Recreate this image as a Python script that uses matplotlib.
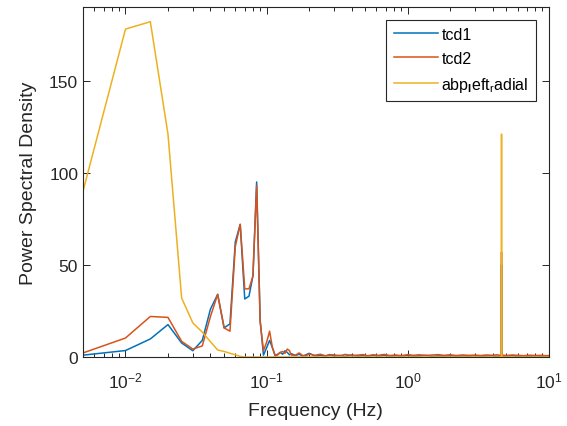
import matplotlib
matplotlib.use("Agg")
import matplotlib.pyplot as plt
from matplotlib.ticker import LogLocator, NullFormatter
import numpy as np

plt.rcParams['font.family'] = ['Liberation Sans', 'DejaVu Sans']
plt.rcParams['mathtext.fontset'] = 'custom'
plt.rcParams['mathtext.rm'] = 'Liberation Sans'
plt.rcParams['mathtext.it'] = 'Liberation Sans'
plt.rcParams['mathtext.bf'] = 'Liberation Sans:bold'

# low frequency part, 0.005 Hz steps
freq_low = [0.005, 0.010, 0.015, 0.020, 0.025, 0.030, 0.035, 0.040, 0.045, 0.050,
            0.055, 0.060, 0.065, 0.070, 0.075, 0.080, 0.085, 0.090, 0.095, 0.100,
            0.105, 0.110, 0.115, 0.120, 0.125, 0.130, 0.135, 0.140, 0.145, 0.150]
tcd1_low = [1.0, 3.5, 9.8, 17.6, 7.6, 3.4, 9.0, 26, 34, 15.8,
            18, 62.5, 72, 31.5, 33, 44, 95, 20, 1.0, 5,
            9, 5, 0.8, 1.5, 2.5, 1.5, 3.4, 2.5, 1.2, 1.8]
tcd2_low = [2.2, 10.3, 22, 21.5, 8.5, 4.3, 6, 22, 34, 15.8,
            14, 60, 72, 37, 37, 44, 93, 19, 3.4, 8,
            14, 5, 0.5, 1.2, 2.5, 3.0, 2.0, 4.3, 3.5, 1.0]
abp_low = [90, 178, 182, 121, 32, 18.5, 13.5, 8.3, 3.8, 3.0,
           2.0, 1.2, 0.3, 0, 0, 0, 0, 0, 0, 0,
           0, 0, 0, 0, 0, 0, 0, 0, 0, 0]

# higher frequency tail incl. the narrow peak near 4.6 Hz
freq_tail = [0.16, 0.17, 0.18, 0.19, 0.20, 0.22, 0.24, 0.26, 0.28, 0.30,
             0.33, 0.36, 0.40, 0.44, 0.48, 0.52, 0.57, 0.62, 0.68, 0.75,
             0.82, 0.90, 1.00, 1.10, 1.20, 1.35, 1.50, 1.65, 1.80, 2.00,
             2.20, 2.45, 2.70, 3.00, 3.30, 3.60, 4.00, 4.30, 4.55, 4.61,
             4.615, 4.62, 4.625, 4.63, 4.70, 5.00, 5.50, 6.00, 6.60, 7.30,
             8.00, 8.80, 9.50, 10.0]
tcd1_tail = [0.8, 1.5, 0.5, 1.2, 2.0, 0.6, 1.0, 0.4, 1.3, 0.5,
             0.9, 0.3, 1.1, 0.4, 0.8, 0.3, 0.9, 0.5, 1.0, 0.3,
             0.7, 0.4, 0.8, 0.3, 0.6, 0.9, 0.3, 0.6, 0.4, 0.7,
             0.3, 0.6, 0.4, 0.8, 0.3, 0.5, 0.7, 0.3, 0.6, 0.2,
             0.3, 50, 0.3, 0.2, 0.5, 0.4, 0.7, 0.3, 0.5, 0.3,
             0.6, 0.3, 0.4, 0.3]
tcd2_tail = [1.0, 2.2, 0.8, 0.6, 1.6, 0.9, 1.5, 0.7, 1.0, 1.2,
             0.6, 1.4, 0.8, 1.0, 1.3, 0.7, 1.2, 0.9, 1.4, 0.8,
             1.1, 0.7, 1.3, 0.9, 1.2, 0.8, 1.1, 1.3, 0.9, 1.2,
             0.8, 1.1, 0.9, 1.0, 0.8, 1.1, 0.9, 1.2, 0.8, 0.6,
             0.5, 57, 0.5, 0.6, 1.0, 0.8, 1.1, 0.9, 0.7, 1.0,
             0.8, 0.9, 0.7, 0.8]
abp_tail = [0, 0, 0, 0, 0, 0, 0, 0, 0, 0,
            0, 0, 0, 0, 0, 0, 0, 0, 0, 0,
            0, 0, 0, 0, 0, 0, 0, 0, 0, 0,
            0, 0, 0, 0, 0, 0, 0, 0, 0, 0,
            0, 121, 0, 0, 0, 0, 0, 0, 0, 0,
            0, 0, 0, 0]

freq = np.array(freq_low + freq_tail)
tcd1 = np.array(tcd1_low + tcd1_tail)
tcd2 = np.array(tcd2_low + tcd2_tail)
abp = np.array(abp_low + abp_tail)

axcol = '#262626'
fig = plt.figure(figsize=(5.67, 4.27), dpi=100)
ax = fig.add_axes([0.1464, 0.1616, 0.8216, 0.8197])
ax.plot(freq, tcd1, color='#0072BD', lw=1.1, label='tcd1')
ax.plot(freq, tcd2, color='#D95319', lw=1.1, label='tcd2')
ax.plot(freq, abp, color='#EDB120', lw=1.1, label=r'abp$_{\mathbf{l}}$eft$_{\mathregular{r}}$adial')
ax.set_xscale('log')
ax.set_xlim(0.005, 10)
ax.set_ylim(0, 190)
ax.set_yticks([0, 50, 100, 150])
ax.xaxis.set_minor_locator(LogLocator(base=10, subs=np.arange(2, 10), numticks=20))
ax.xaxis.set_minor_formatter(NullFormatter())
ax.tick_params(which='both', direction='in', top=True, right=True, colors=axcol,
               labelsize=12.5, width=0.7)
ax.tick_params(which='major', length=5)
ax.tick_params(which='minor', length=3)
ax.tick_params(axis='x', pad=10)
for s in ax.spines.values():
    s.set_color(axcol)
    s.set_linewidth(0.8)
ax.set_xlabel('Frequency (Hz)', fontsize=14, color=axcol, labelpad=8)
ax.set_ylabel('Power Spectral Density', fontsize=14, color=axcol, labelpad=9)
leg = ax.legend(loc='upper right', fontsize=11.5, frameon=True, fancybox=False,
                framealpha=1, edgecolor=axcol, borderaxespad=0.8,
                handlelength=2.8, handletextpad=0.2, labelspacing=0.55,
                borderpad=0.45)
leg.get_frame().set_linewidth(0.8)
plt.savefig('out.png', dpi=100)
plt.close()
